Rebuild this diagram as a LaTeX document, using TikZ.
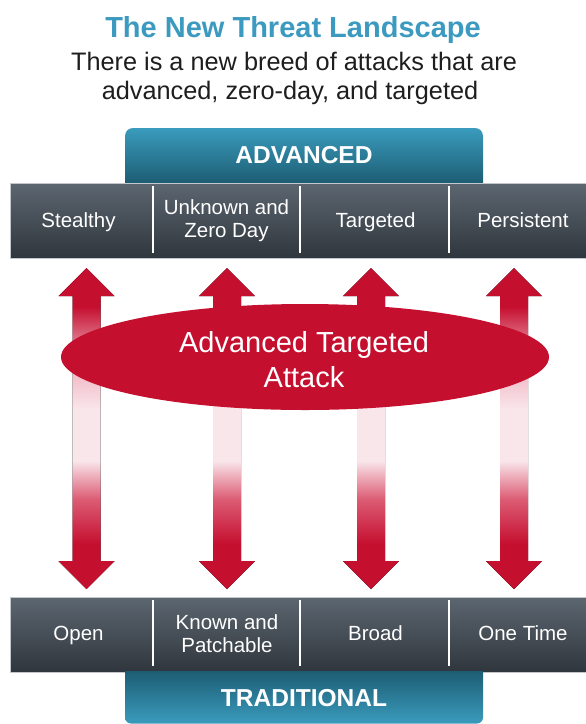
\documentclass[tikz,border=0pt]{standalone}
\usepackage{fontspec}
\setmainfont{Liberation Sans}
\usetikzlibrary{shapes.geometric}

\definecolor{titleblue}{HTML}{3C9AC0}
\definecolor{subtext}{HTML}{1E1E1E}
\definecolor{tablight}{HTML}{3A9BBD}
\definecolor{tabdark}{HTML}{1D5D73}
\definecolor{barlight}{HTML}{5C6670}
\definecolor{bardark}{HTML}{2F353C}
\definecolor{barline}{HTML}{C3C7CB}
\definecolor{atkred}{HTML}{C50F2F}
\definecolor{midred}{HTML}{DC5C74}
\definecolor{midpink}{HTML}{EEA9B8}
\definecolor{fadepink}{HTML}{F9E6EB}

% red at both heads, fading to pale pink around the middle of the shaft
\pgfdeclareverticalshading{redfade}{100bp}{color(0bp)=(atkred); color(25bp)=(atkred);
  color(32bp)=(atkred); color(39bp)=(midred); color(45bp)=(fadepink);
  color(53bp)=(fadepink); color(61bp)=(midpink); color(69bp)=(atkred);
  color(75bp)=(atkred); color(100bp)=(atkred)}

\tikzset{
  bar/.style={rectangle, draw=barline, line width=0.8pt, top color=barlight,
    bottom color=bardark, minimum width=576pt, minimum height=75pt,
    anchor=north west, inner sep=0pt},
  celltext/.style={text=white, font=\fontsize{20.5}{23}\selectfont, align=center, inner sep=0pt},
  tablabel/.style={text=white, font=\bfseries\fontsize{24.5}{28}\selectfont, inner sep=0pt, anchor=base},
  subline/.style={anchor=base, text=subtext, inner sep=0pt, font=\fontsize{25.3}{29}\selectfont},
  divider/.style={white, line width=2pt},
  fadearrow/.style={shading=redfade},
}

\begin{document}
\begin{tikzpicture}[x=1pt,y=-1pt]
\useasboundingbox (0,0) rectangle (586,724);
\fill[white] (0,0) rectangle (586,724);

% heading
\node (title) [anchor=base, text=titleblue, inner sep=0pt,
  font=\bfseries\fontsize{29}{33}\selectfont] at (293,37.5) {The New Threat Landscape};
\node (sub1) [subline] at (294,70.5) {There is a new breed of attacks that are};
\node (sub2) [subline] at (290,99.5) {advanced, zero-day, and targeted};

% upper tab
\path[top color=tablight, bottom color=tabdark]
  (125,183) {[rounded corners=8pt] -- (125,128) -- (483,128)} -- (483,183);
\node (advtab) [tablabel] at (304,163.8) {ADVANCED};

% upper bar
\node (topbar) [bar] at (10,183) {};
\draw[divider] (153,186) -- (153,253);
\draw[divider] (300,186) -- (300,253);
\draw[divider] (449,186) -- (449,253);
\node (stealthy) [celltext, anchor=base] at (78.5,227.3) {Stealthy};
\node (zeroday) [celltext] at (226.5,220.5) {Unknown and\\Zero Day};
\node (targeted) [celltext, anchor=base] at (375.5,227.3) {Targeted};
\node (persistent) [celltext, anchor=base] at (523,227.3) {Persistent};

% lower bar
\node (botbar) [bar] at (10,597) {};
\draw[divider] (153,600) -- (153,666);
\draw[divider] (300,600) -- (300,666);
\draw[divider] (449,600) -- (449,666);
\node (open) [celltext, anchor=base] at (78.5,640.5) {Open};
\node (patchable) [celltext] at (227,634) {Known and\\Patchable};
\node (broad) [celltext, anchor=base] at (375.5,640.5) {Broad};
\node (onetime) [celltext, anchor=base] at (523,640.5) {One Time};

% lower tab
\path[top color=tabdark, bottom color=tablight]
  (125,671) {[rounded corners=6pt] -- (125,723.5) -- (483,723.5)} -- (483,671);
\node (tradtab) [tablabel] at (304,706.8) {TRADITIONAL};

% double-headed arrows between the two bars
\foreach \cx in {86.5,227,371,514}{
  \fill[fadearrow] (\cx,268) -- (\cx+28,296) -- (\cx+14,296) -- (\cx+14,561)
    -- (\cx+28,561) -- (\cx,589) -- (\cx-28,561) -- (\cx-14,561)
    -- (\cx-14,296) -- (\cx-28,296) -- cycle;
}

% central ellipse and its caption
\node (ata) [ellipse, fill=atkred, minimum width=488pt, minimum height=106pt,
  inner sep=0pt] at (305,357) {};
\node (atalabel) [align=center, text=white, inner sep=0pt,
  font=\fontsize{29}{35}\selectfont] at (304,360) {Advanced Targeted\\Attack};
\end{tikzpicture}
\end{document}
